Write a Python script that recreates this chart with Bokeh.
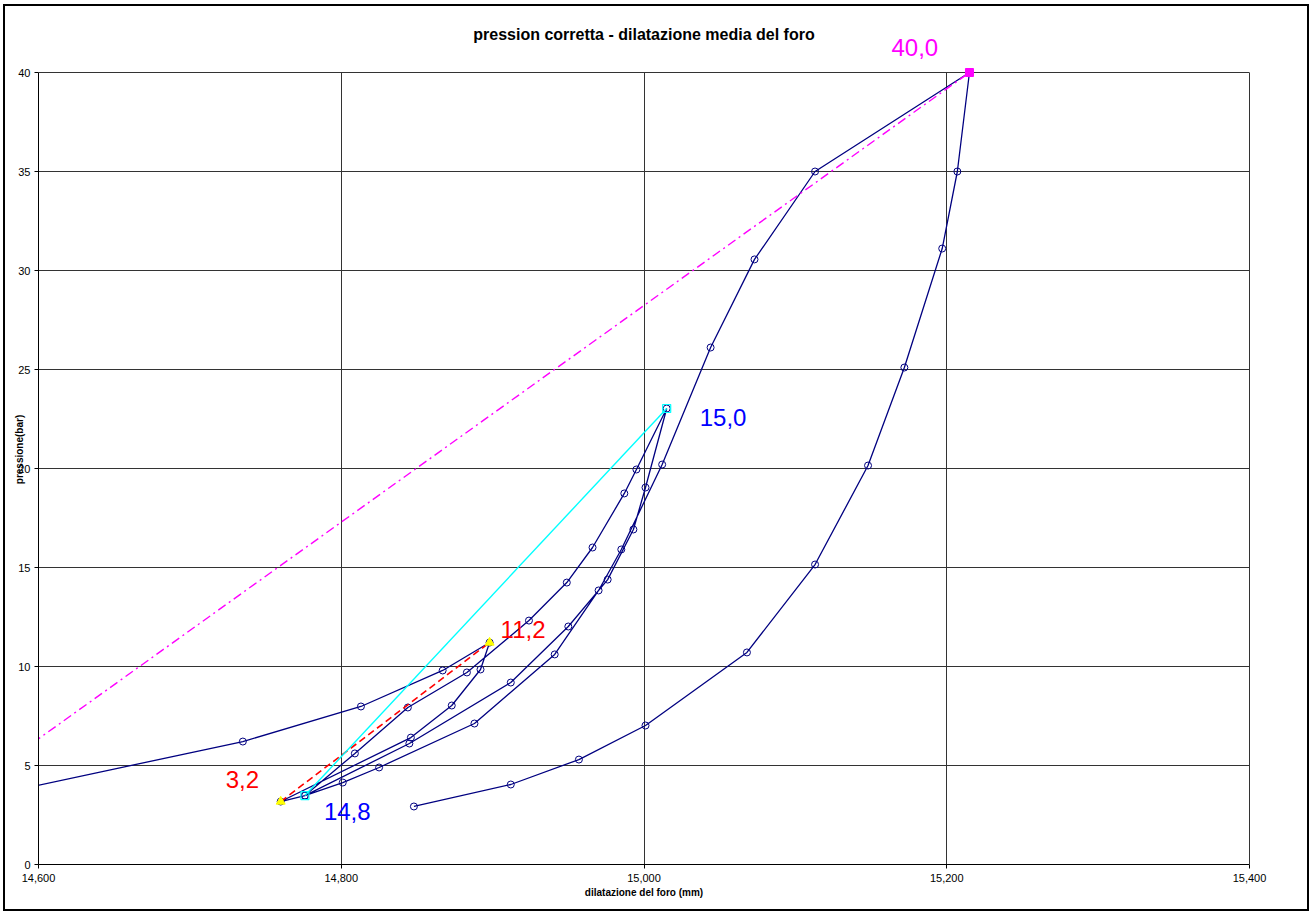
from bokeh.plotting import figure
from bokeh.models import Range1d, FixedTicker, Label, ColumnDataSource, LinearAxis
from bokeh.embed import file_html
from bokeh.resources import INLINE

# ---- data (dilatation in mm, pressure in bar) ----
# main test curve, in acquisition order (load / unload / reload cycles)
dil = [14.540, 14.735, 14.813, 14.867, 14.898,
       14.892, 14.873, 14.846, 14.760,
       14.776, 14.809, 14.844, 14.883, 14.924, 14.949, 14.966, 14.987, 14.995, 15.015,
       15.001, 14.993, 14.976, 14.950, 14.912, 14.845, 14.776,
       14.801, 14.825, 14.888, 14.941, 14.970, 14.985, 15.012, 15.044, 15.073, 15.113, 15.215,
       15.207, 15.197, 15.172, 15.148, 15.113, 15.068, 15.001, 14.957, 14.912, 14.848]
press = [3.02, 6.21, 7.98, 9.80, 11.21,
         9.85, 8.03, 6.41, 3.18,
         3.48, 5.61, 7.93, 9.70, 12.32, 14.24, 16.01, 18.74, 19.95, 23.03,
         19.04, 16.92, 14.39, 12.02, 9.19, 6.11, 3.48,
         4.14, 4.90, 7.12, 10.61, 13.84, 15.91, 20.20, 26.11, 30.56, 35.00, 40.00,
         35.00, 31.11, 25.10, 20.15, 15.15, 10.71, 7.02, 5.30, 4.04, 2.93]

# first unload-reload cycle (red)
cyc1_dil = [14.760, 14.898]
cyc1_press = [3.18, 11.21]
# second cycle (cyan)
cyc2_dil = [14.776, 15.015]
cyc2_press = [3.48, 23.03]
# secant to the maximum pressure (magenta)
sec_dil = [14.484, 15.215]
sec_press = [0.0, 40.0]

x_ticks = [14.6, 14.8, 15.0, 15.2, 15.4]
x_tick_labels = ["14,600", "14,800", "15,000", "15,200", "15,400"]
y_ticks = [0, 5, 10, 15, 20, 25, 30, 35, 40]
x_min, x_max = 14.6, 15.4
y_min, y_max = 0, 40

def it(v):
    return f"{v:.1f}".replace(".", ",")

FONT = "Liberation Sans"
NAVY = "#000080"
GRID = "#333333"

# layout (pixels): frame bottom 864, value y_max at 72, frame extended up to 34
PX_BOTTOM, PX_YMAX, PX_TOP = 864, 72, 34
y_top = y_max * (PX_BOTTOM - PX_TOP) / (PX_BOTTOM - PX_YMAX)

p = figure(width=1306, height=907,
           x_range=Range1d(x_min, x_max), y_range=Range1d(y_min, y_top),
           output_backend="svg", toolbar_location=None,
           min_border_left=33, min_border_right=62,
           min_border_top=PX_TOP - 6, min_border_bottom=49,
           title="pression corretta - dilatazione media del foro")
p.styles = {"border": "2px solid black", "margin-left": "3px", "margin-top": "4px"}

p.title.align = "center"
p.title.text_font = FONT
p.title.text_font_size = "16px"
p.title.text_font_style = "bold"
p.title.text_color = "black"
try:
    p.title.standoff = -16
except Exception:
    p.title.standoff = 0

p.outline_line_color = None

for ax in (p.xaxis[0], p.yaxis[0]):
    ax.major_label_text_font = FONT
    ax.major_label_text_font_size = "11px"
    ax.major_label_text_color = "black"
    ax.axis_label_text_font = FONT
    ax.axis_label_text_font_size = "10px"
    ax.axis_label_text_font_style = "bold"
    ax.axis_label_text_color = "black"
    ax.minor_tick_line_color = None
    ax.major_tick_in = 0
    ax.major_tick_out = 4
    ax.axis_line_color = "black"
    ax.major_tick_line_color = "black"

p.xaxis.ticker = FixedTicker(ticks=x_ticks)
p.xaxis.major_label_overrides = dict(zip(x_ticks, x_tick_labels))
p.xaxis.axis_label = "dilatazione del foro (mm)"
p.xaxis.major_label_standoff = 5
p.xaxis.axis_label_standoff = 2

p.yaxis.ticker = FixedTicker(ticks=y_ticks)
p.yaxis.bounds = (y_min, y_max)
p.yaxis.axis_label = "pressione(bar)"
p.yaxis.major_label_standoff = 4
p.yaxis.axis_label_standoff = -10
p.yaxis.major_label_orientation = "horizontal"

# right border of the plot area
right_ax = LinearAxis(ticker=FixedTicker(ticks=[]), bounds=(y_min, y_max),
                      axis_line_color=GRID, major_tick_line_color=None,
                      minor_tick_line_color=None)
p.add_layout(right_ax, "right")

p.ygrid.grid_line_color = GRID
p.ygrid.grid_line_width = 1
p.ygrid.bounds = (y_min, y_top)

has_cross = "cross_bounds" in p.xgrid[0].properties()
if has_cross:
    p.xgrid.grid_line_color = GRID
    p.xgrid.grid_line_width = 1
    p.xgrid.cross_bounds = (y_min, y_max)
else:
    p.xgrid.grid_line_color = None
    inner = x_ticks[1:-1]
    p.segment(x0=inner, y0=[y_min] * len(inner), x1=inner, y1=[y_max] * len(inner),
              line_color=GRID, line_width=1, level="underlay")

src = ColumnDataSource(dict(x=dil, y=press))
p.line("x", "y", source=src, line_color=NAVY, line_width=1.3)
p.scatter("x", "y", source=src, marker="circle", size=7, fill_color=None,
          line_color=NAVY, line_width=1)

p.line(cyc1_dil, cyc1_press, line_color="#FF0000", line_width=1.6, line_dash="7 4")
p.scatter(cyc1_dil, cyc1_press, marker="triangle", size=9, fill_color="#FFFF00",
          line_color="#FFFF00")

p.line(cyc2_dil, cyc2_press, line_color="#00FFFF", line_width=1.4)
p.scatter(cyc2_dil, cyc2_press, marker="square", size=8, fill_color=None,
          line_color="#00FFFF", line_width=1.2)

p.line(sec_dil, sec_press, line_color="#FF00FF", line_width=1.4, line_dash="9 4 2 4")
p.scatter([sec_dil[1]], [sec_press[1]], marker="square", size=8,
          fill_color="#FF00FF", line_color="#FF00FF")

def add_label(x, y, text, color, dx, dy):
    p.add_layout(Label(x=x, y=y, text=text, x_offset=dx, y_offset=dy,
                       text_color=color, text_font=FONT, text_font_size="24px",
                       text_baseline="alphabetic", text_align="left",
                       level="overlay"))

add_label(sec_dil[1], sec_press[1], it(sec_press[1]), "#FF00FF", -78, 25)
add_label(cyc1_dil[0], cyc1_press[0], it(cyc1_press[0]), "#FF0000", -55, 22)
add_label(cyc1_dil[1], cyc1_press[1], it(cyc1_press[1]), "#FF0000", 11, 13)
add_label(cyc2_dil[0], cyc2_press[0], it(cyc2_dil[0]), "#0000FF", 19, -16)
add_label(cyc2_dil[1], cyc2_press[1], it(cyc2_dil[1]), "#0000FF", 33, -9)

open("out.html", "w").write(file_html(p, INLINE))
